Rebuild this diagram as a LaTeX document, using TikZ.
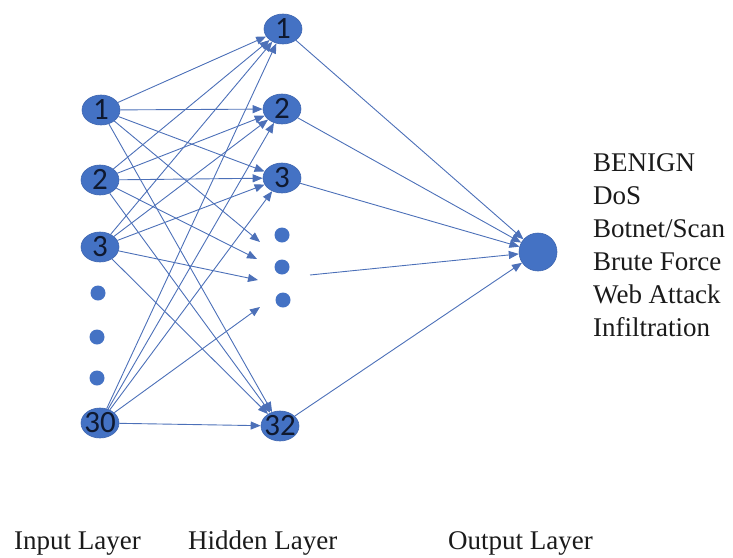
\documentclass[tikz,border=0pt]{standalone}
\usepackage{fontspec}
\setmainfont{Liberation Serif}
\newfontfamily\numfont{Carlito}
\usetikzlibrary{arrows.meta,shapes.geometric}
\definecolor{nodeblue}{HTML}{4472C4}
\definecolor{nodeedge}{HTML}{3F66B0}
\definecolor{edgeblue}{HTML}{4C70B8}
\definecolor{numtext}{HTML}{0F1930}
\definecolor{labtext}{HTML}{1A1A1A}
\newcommand{\nnum}[1]{\smash{\makebox[0pt]{\raisebox{-.31em}{#1}}}}
\begin{document}
\begin{tikzpicture}[x=1pt,y=-1pt,
  neuron/.style={ellipse, draw=nodeedge, line width=0.6pt, fill=nodeblue,
    minimum width=38pt, minimum height=30pt, inner sep=0pt,
    font=\numfont\fontsize{31}{31}\selectfont, text=numtext},
  smalldot/.style={circle, fill=nodeblue, minimum size=15pt, inner sep=0pt},
  outneuron/.style={circle, fill=nodeblue, draw=nodeedge, line width=0.6pt, minimum size=38pt, inner sep=0pt},
  conn/.style={draw=edgeblue, line width=0.9pt, -{Triangle[length=10pt,width=8pt]}},
  lab/.style={font=\fontsize{27}{33}\selectfont, text=labtext, inner sep=0pt, anchor=base west},
]
\useasboundingbox (0,0) rectangle (733,557);

% input layer
\node[neuron] (i1) at (101,110) {\nnum{1}};
\node[neuron] (i2) at (100,180) {\nnum{2}};
\node[neuron] (i3) at (100,247) {\nnum{3}};
\node[smalldot] (id1) at (98,293) {};
\node[smalldot] (id2) at (97,337) {};
\node[smalldot] (id3) at (97,378) {};
\node[neuron] (i30) at (100,423) {\nnum{30}};

% hidden layer
\node[neuron] (h1) at (283,29) {\nnum{1}};
\node[neuron] (h2) at (282,109) {\nnum{2}};
\node[neuron] (h3) at (282,178) {\nnum{3}};
\node[smalldot] (hd1) at (282,235) {};
\node[smalldot] (hd2) at (282,267) {};
\node[smalldot] (hd3) at (283,300) {};
\node[neuron] (h32) at (280,426) {\nnum{32}};

% output
\node[outneuron] (out) at (538,252) {};

% free ends near the hidden dots
\coordinate (a1) at (260,242);
\coordinate (a2) at (257,259);
\coordinate (a3) at (258,280);
\coordinate (a4) at (260,307);
\coordinate (s) at (310,275);

% input -> hidden
\foreach \src/\dotend in {i1/a1, i2/a2, i3/a3, i30/a4} {
  \draw[conn] (\src) -- (h1);
  \draw[conn] (\src) -- (h2);
  \draw[conn] (\src) -- (h3);
  \draw[conn] (\src) -- (\dotend);
  \draw[conn] (\src) -- (h32);
}

% hidden -> output
\draw[conn] (h1) -- (out);
\draw[conn] (h2) -- (out);
\draw[conn] (h3) -- (out);
\draw[conn] (s) -- (out);
\draw[conn] (h32) -- (out);

% class labels
\node[lab] (c1) at (593,171) {BENIGN};
\node[lab] (c2) at (593,204) {DoS};
\node[lab] (c3) at (593,237) {Botnet/Scan};
\node[lab] (c4) at (593,270) {Brute Force};
\node[lab] (c5) at (593,303) {Web Attack};
\node[lab] (c6) at (593,336) {Infiltration};

% layer labels
\node[lab] (li) at (14,549) {Input Layer};
\node[lab] (lh) at (188,549) {Hidden Layer};
\node[lab] (lo) at (448,549) {Output Layer};
\end{tikzpicture}
\end{document}
